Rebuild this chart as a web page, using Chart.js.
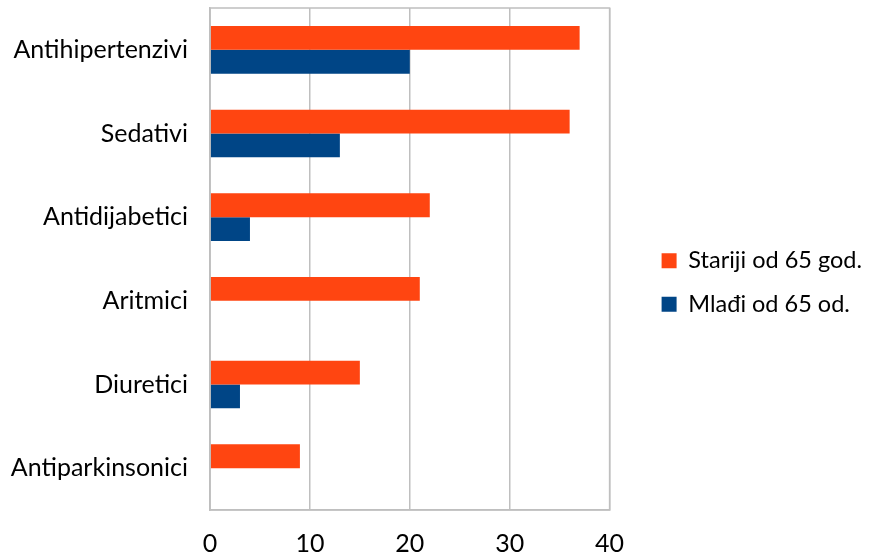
<!DOCTYPE html>
<html>
<head>
<meta charset="utf-8">
<script src="https://cdn.jsdelivr.net/npm/chart.js@4"></script>
<style>
  html, body { margin: 0; padding: 0; background: #fff; }
  #wrap { width: 872px; height: 557px; }
</style>
</head>
<body>
<div id="wrap"><canvas id="drugChart"></canvas></div>
<script>
const categories = ['Antihipertenzivi', 'Sedativi', 'Antidijabetici', 'Aritmici', 'Diuretici', 'Antiparkinsonici'];
const olderValues = [37, 36, 22, 21, 15, 9];
const youngerValues = [20, 13, 4, 0, 3, 0];
const seriesNames = ['Stariji od 65 god.', 'Mlađi od 65 od.'];

// frame around the plot area (top edge is not drawn by the axes)
const plotFrame = {
    id: 'plotFrame',
    afterDraw(chart) {
        const { ctx, chartArea } = chart;
        ctx.save();
        ctx.strokeStyle = '#BFBFBF';
        ctx.lineWidth = 1.5;
        ctx.strokeRect(chartArea.left, chartArea.top, chartArea.right - chartArea.left, chartArea.bottom - chartArea.top);
        ctx.restore();
    }
};

Chart.defaults.font.family = 'Lato, "Open Sans", sans-serif';
Chart.defaults.font.size = 25;
Chart.defaults.color = '#000';

new Chart(document.getElementById('drugChart'), {
    type: 'bar',
    data: {
        labels: categories,
        datasets: [
            {
                label: seriesNames[0],
                data: olderValues,
                backgroundColor: '#FF4511',
                categoryPercentage: 0.57,
                barPercentage: 1.0,
            },
            {
                label: seriesNames[1],
                data: youngerValues,
                backgroundColor: '#004586',
                categoryPercentage: 0.57,
                barPercentage: 1.0,
            },
        ],
    },
    plugins: [plotFrame],
    options: {
        indexAxis: 'y',
        responsive: true,
        maintainAspectRatio: false,
        animation: false,
        layout: { padding: { top: 8, right: 0, left: 0, bottom: 0 } },
        plugins: {
            legend: {
                position: 'right',
                maxWidth: 240,
                labels: {
                    boxWidth: 15,
                    boxHeight: 15,
                    padding: 20,
                    font: { size: 23.5 },
                },
            },
            tooltip: { enabled: false },
        },
        scales: {
            x: {
                min: 0,
                max: 40,
                ticks: { stepSize: 10, padding: 21, font: { lineHeight: 1 } },
                grid: { color: '#BFBFBF', lineWidth: 1.5, drawTicks: false },
                border: { color: '#BFBFBF', width: 1.5 },
                afterFit(scale) {
                    scale.height = 47;
                },
            },
            y: {
                ticks: { padding: 22 },
                grid: { display: false, drawTicks: false },
                border: { color: '#BFBFBF', width: 1.5 },
                afterFit(scale) {
                    scale.width = 210;
                    scale.paddingTop = 0;
                    scale.paddingBottom = 0;
                },
            },
            // empty spacer between the plot and the legend
            gap: {
                type: 'linear',
                axis: 'y',
                position: 'right',
                ticks: { display: false },
                grid: { display: false, drawTicks: false },
                border: { display: false },
                afterFit(scale) {
                    scale.width = 32;
                },
            },
        },
    },
});
</script>
</body>
</html>
